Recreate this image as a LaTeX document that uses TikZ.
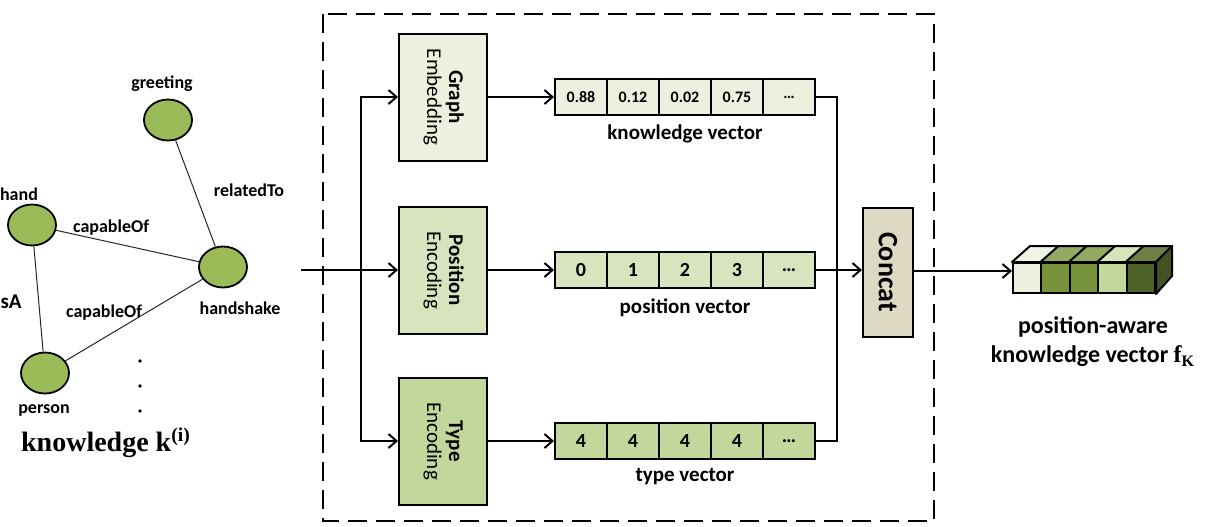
\documentclass[tikz,border=0pt]{standalone}
\usepackage[no-math]{fontspec}
\setmainfont{Carlito}
\newfontfamily\serifface{Liberation Serif}
\usepackage{graphicx}
\usetikzlibrary{arrows.meta,shapes.geometric}

\definecolor{paleA}{HTML}{EBF1DE}
\definecolor{paleB}{HTML}{D7E4BD}
\definecolor{paleC}{HTML}{C3D69B}
\definecolor{sand}{HTML}{DDD9C3}
\definecolor{leaf}{HTML}{9BBB59}
\definecolor{moss}{HTML}{77933C}
\definecolor{mossTop}{HTML}{93AA62}
\definecolor{olive}{HTML}{4F6228}
\definecolor{oliveTop}{HTML}{6E8046}
\definecolor{oliveSide}{HTML}{435322}
\definecolor{paleTop}{HTML}{F0F4E6}

\tikzset{
  concept/.style={ellipse, draw, line width=0.9pt, fill=leaf,
    minimum width=24pt, minimum height=20.5pt, inner sep=0pt},
  edge/.style={line width=0.5pt, draw=black!85},
  glabel/.style={font=\bfseries\fontsize{9}{10}\selectfont, inner sep=0pt},
  block/.style={draw, line width=1pt, minimum width=44pt, minimum height=63.5pt,
    inner sep=0pt, font=\fontsize{10.5}{12}\selectfont},
  cell/.style={draw, line width=1pt, minimum width=26pt, minimum height=18pt,
    inner sep=0pt, font=\bfseries\fontsize{10}{12}\selectfont},
  smallcell/.style={cell, font=\bfseries\fontsize{8}{10}\selectfont},
  veclabel/.style={font=\bfseries\fontsize{10.5}{12}\selectfont, inner sep=0pt},
  arr/.style={line width=1pt, -{Straight Barb[length=4pt,width=7pt,line width=1pt]}},
  conn/.style={line width=1pt},
  frame/.style={line width=1.4pt, dash pattern=on 9.5pt off 4.5pt},
  cube/.style={draw, line width=1pt, minimum width=14.2pt, minimum height=15pt,
    inner sep=0pt},
  face/.style={draw, line width=1pt, line join=round}
}

\begin{document}
\begin{tikzpicture}[x=0.5pt, y=-0.5pt]
\useasboundingbox (0,0) rectangle (1216,526);

% ---- knowledge graph ----
\node[concept] (greeting)  at (168,120) {};
\node[concept] (hand)      at (32,225)  {};
\node[concept] (handshake) at (223,267) {};
\node[concept] (person)    at (45,373)  {};

\draw[edge] (greeting) -- (handshake);
\draw[edge] (hand) -- (handshake);
\draw[edge] (hand) -- (person);
\draw[edge] (person) -- (handshake);

\node[glabel] (lgreeting)  at (162,84)  {greeting};
\node[glabel] (lhand)      at (19,194)  {hand};
\node[glabel] (lhandshake) at (240,308) {handshake};
\node[glabel] (lperson)    at (44,410)  {person};
\node[glabel] (lrelated)   at (249,190) {relatedTo};
\node[glabel] (lcap1)      at (111,228) {capableOf};
\node[glabel] (lcap2)      at (104,313) {capableOf};
\node[glabel, anchor=east, font=\bfseries\fontsize{10.5}{12}\selectfont]
  (lisa) at (22,301) {isA};

\foreach \yy in {361,386,411}
  \fill (140,\yy) circle[radius=0.9pt];

\node[font=\serifface\bfseries\fontsize{14}{16}\selectfont, inner sep=0pt]
  (kk) at (106,443) {knowledge k\textsuperscript{(i)}};

% ---- encoder frame ----
\draw[frame] (323,14) rectangle (934,521);

\node[block, fill=paleA] (ge) at (443,97)
  {\rotatebox{-90}{\begin{tabular}{@{}c@{}}\textbf{Graph}\\[-1pt]Embedding\end{tabular}}};
\node[block, fill=paleB] (pe) at (443,270)
  {\rotatebox{-90}{\begin{tabular}{@{}c@{}}\textbf{Position}\\[-1pt]Encoding\end{tabular}}};
\node[block, fill=paleC] (te) at (443,441)
  {\rotatebox{-90}{\begin{tabular}{@{}c@{}}\textbf{Type}\\[-1pt]Encoding\end{tabular}}};

\foreach \v [count=\i] in {0.88,0.12,0.02,0.75,\ldots}
  \node[smallcell, fill=paleA] (kv\i) at ({529+52*\i},97) {\v};
\foreach \v [count=\i] in {0,1,2,3,\ldots}
  \node[cell, fill=paleB] (pv\i) at ({529+52*\i},270) {\v};
\foreach \v [count=\i] in {4,4,4,4,\ldots}
  \node[cell, fill=paleC] (tv\i) at ({529+52*\i},441) {\v};

\node[veclabel] (klab) at (685,134) {knowledge vector};
\node[veclabel] (plab) at (685,308) {position vector};
\node[veclabel] (tlab) at (685,477) {type vector};

\node[draw, line width=1pt, fill=sand, minimum width=25pt, minimum height=64.5pt,
  inner sep=0pt, font=\bfseries\fontsize{14}{16}\selectfont]
  (concat) at (888,272) {\rotatebox{-90}{Concat}};

% ---- connectors ----
\coordinate (inp) at (301,270);
\coordinate (split) at (361,270);
\coordinate (merge) at (837,270);

\draw[arr] (inp) -- (pe.west);
\draw[arr] (split) |- (ge.west);
\draw[arr] (split) |- (te.west);

\draw[arr] (ge.east) -- (kv1.west);
\draw[arr] (pe.east) -- (pv1.west);
\draw[arr] (te.east) -- (tv1.west);

\draw[conn] (kv5.east) -| (merge) |- (tv5.east);
\draw[arr] (pv5.east) -- (pv5.east -| concat.west);

% ---- output vector drawn as a row of cubes ----
\foreach \i/\fr/\tp in {1/paleA/paleTop, 2/moss/mossTop, 3/moss/mossTop,
                        4/paleC/paleB, 5/olive/oliveTop} {
  \node[cube, fill=\fr] (c\i) at ({998.8+28.4*\i},278) {};
  \draw[face, fill=\tp] (c\i.north west) -- (c\i.north east)
    -- ++(16,-16) -- ++(-28.4,0) -- cycle;
}
\draw[face, fill=oliveSide] (c5.north east) -- ++(16,-16) -- ++(0,30)
  -- (c5.south east) -- cycle;

\draw[arr] (concat.east |- 0,271) -- (c1.west |- 0,271);

\node[font=\bfseries\fontsize{12}{14}\selectfont, inner sep=0pt]
  (out1) at (1093,327) {position-aware};
\node[font=\bfseries\fontsize{12}{14}\selectfont, inner sep=0pt]
  (out2) at (1093,356) {knowledge vector {\serifface\bfseries f}\textsubscript{\serifface\bfseries K}};
\end{tikzpicture}
\end{document}
